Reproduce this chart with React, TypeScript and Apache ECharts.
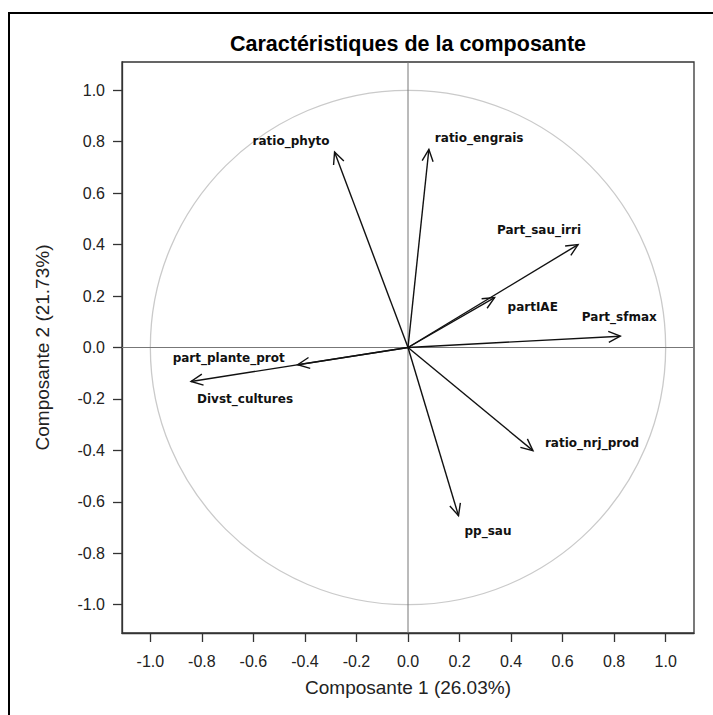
import React, { useEffect, useRef } from "react";
import * as echarts from "echarts";

const variables = [
  "ratio_phyto",
  "ratio_engrais",
  "Part_sau_irri",
  "partIAE",
  "Part_sfmax",
  "ratio_nrj_prod",
  "pp_sau",
  "part_plante_prot",
  "Divst_cultures",
];
const comp1 = [-0.285, 0.081, 0.66, 0.336, 0.824, 0.485, 0.196, -0.428, -0.842];
const comp2 = [0.76, 0.77, 0.4, 0.194, 0.044, -0.401, -0.654, -0.067, -0.132];
const tickValues = [-1.0, -0.8, -0.6, -0.4, -0.2, 0.0, 0.2, 0.4, 0.6, 0.8, 1.0];
const circleRadius = [1];

const titleText = "Caractéristiques de la composante";
const xName = "Composante 1 (26.03%)";
const yName = "Composante 2 (21.73%)";

// label placement relative to arrow tip (style only)
const labelStyle: { dx: number; dy: number; align: string }[] = [
  { dx: -5, dy: -11, align: "right" },
  { dx: 6, dy: -11, align: "left" },
  { dx: 3, dy: -15, align: "right" },
  { dx: 13, dy: 9, align: "left" },
  { dx: -1, dy: -19, align: "center" },
  { dx: 12, dy: -8, align: "left" },
  { dx: 6, dy: 15, align: "left" },
  { dx: -13, dy: -7, align: "right" },
  { dx: 6, dy: 18, align: "left" },
];

export default function App() {
  const ref = useRef<HTMLDivElement>(null);
  useEffect(() => {
    if (!ref.current) return;
    const chart = echarts.init(ref.current, null, { renderer: "svg" });
    const axisFont = { fontFamily: "Liberation Sans", fontSize: 16, color: "#222" };
    const option: any = {
      animation: false,
      backgroundColor: "#fff",
      grid: {
        left: 122,
        top: 62,
        width: 572,
        height: 571,
        show: true,
        borderColor: "#333",
        borderWidth: 1.3,
        containLabel: false,
      },
      xAxis: {
        type: "value",
        min: -1.11,
        max: 1.11,
        name: xName,
        nameLocation: "middle",
        nameGap: 45,
        nameTextStyle: { fontFamily: "Liberation Sans", fontSize: 19, color: "#222" },
        axisLine: { show: true, onZero: false, lineStyle: { color: "#333", width: 1.3 } },
        axisTick: { show: true, inside: false, length: 9, customValues: tickValues, lineStyle: { color: "#333", width: 1.3 } },
        axisLabel: {
          ...axisFont,
          margin: 20,
          customValues: tickValues,
          formatter: (v: number) => v.toFixed(1),
        },
        splitLine: { show: false },
      },
      yAxis: {
        type: "value",
        min: -1.11,
        max: 1.11,
        name: yName,
        nameLocation: "middle",
        nameGap: 70,
        nameRotate: 90,
        nameTextStyle: { fontFamily: "Liberation Sans", fontSize: 19, color: "#222" },
        axisLine: { show: true, onZero: false, lineStyle: { color: "#333", width: 1.3 } },
        axisTick: { show: true, inside: false, length: 9, customValues: tickValues, lineStyle: { color: "#333", width: 1.3 } },
        axisLabel: {
          ...axisFont,
          margin: 17,
          customValues: tickValues,
          formatter: (v: number) => v.toFixed(1),
        },
        splitLine: { show: false },
      },
      graphic: [
        {
          type: "rect",
          shape: { x: 9, y: 13, width: 900, height: 900 },
          style: { fill: "none", stroke: "#000", lineWidth: 2 },
          silent: true,
          z: 10,
        },
        {
          type: "text",
          x: 408,
          y: 44,
          style: {
            text: titleText,
            align: "center",
            verticalAlign: "middle",
            fontFamily: "Liberation Sans",
            fontWeight: "bold",
            fontSize: 21.5,
            fill: "#000",
          },
        },
      ],
      series: [
        {
          type: "custom",
          coordinateSystem: "cartesian2d",
          clip: false,
          z: 1,
          data: circleRadius.map((r) => [0, 0, r]),
          renderItem: (params: any, api: any) => {
            const r = api.value(2);
            const c = api.coord([0, 0]);
            const px = api.coord([r, 0]);
            const py = api.coord([0, r]);
            const cs = params.coordSys;
            return {
              type: "group",
              children: [
                {
                  type: "ellipse",
                  shape: { cx: c[0], cy: c[1], rx: px[0] - c[0], ry: c[1] - py[1] },
                  style: { fill: "none", stroke: "#cacaca", lineWidth: 1.3 },
                },
                {
                  type: "line",
                  shape: { x1: cs.x, y1: c[1], x2: cs.x + cs.width, y2: c[1] },
                  style: { stroke: "#777", lineWidth: 1 },
                },
                {
                  type: "line",
                  shape: { x1: c[0], y1: cs.y, x2: c[0], y2: cs.y + cs.height },
                  style: { stroke: "#777", lineWidth: 1 },
                },
              ],
            };
          },
        },
        {
          type: "custom",
          coordinateSystem: "cartesian2d",
          clip: false,
          z: 2,
          data: variables.map((n, i) => [comp1[i], comp2[i], n]),
          renderItem: (params: any, api: any) => {
            const i = params.dataIndex;
            const o = api.coord([0, 0]);
            const t = api.coord([api.value(0), api.value(1)]);
            const ang = Math.atan2(t[1] - o[1], t[0] - o[0]);
            const L = 13;
            const a = (25 * Math.PI) / 180;
            const p1 = [t[0] - L * Math.cos(ang - a), t[1] - L * Math.sin(ang - a)];
            const p2 = [t[0] - L * Math.cos(ang + a), t[1] - L * Math.sin(ang + a)];
            const ls = labelStyle[i];
            return {
              type: "group",
              children: [
                {
                  type: "line",
                  shape: { x1: o[0], y1: o[1], x2: t[0], y2: t[1] },
                  style: { stroke: "#111", lineWidth: 1.4 },
                },
                {
                  type: "polyline",
                  shape: { points: [p1, t, p2] },
                  style: { stroke: "#111", fill: "none", lineWidth: 1.4 },
                },
                {
                  type: "text",
                  style: {
                    text: variables[i],
                    x: t[0] + ls.dx,
                    y: t[1] + ls.dy,
                    align: ls.align,
                    verticalAlign: "middle",
                    fontFamily: "DejaVu Sans",
                    fontWeight: "bold",
                    fontSize: 12,
                    fill: "#111",
                  },
                },
              ],
            };
          },
        },
      ],
    };
    chart.setOption(option);
    return () => chart.dispose();
  }, []);
  return (
    <div
      ref={ref}
      style={{ position: "fixed", left: 0, top: 0, width: 713, height: 715 }}
    />
  );
}
